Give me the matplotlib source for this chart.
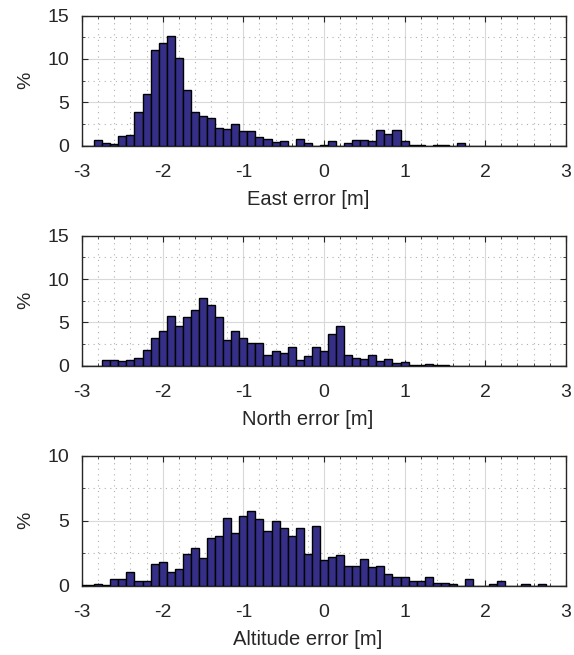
import matplotlib
matplotlib.use('Agg')
import matplotlib.pyplot as plt
import numpy as np
from matplotlib.ticker import MultipleLocator

## bin centres every 0.1 m, from -3 to 3 (61 bins)
centers = np.round(np.arange(-3.0, 3.0001, 0.1), 1)

## percent of samples per bin
east = [0, 0, 0.6, 0.27, 0.15, 1.08, 1.2, 3.9, 6.0, 11.0,
        11.9, 12.6, 10.1, 6.4, 3.9, 3.4, 3.15, 2.0, 1.9, 2.46,
        1.7, 1.7, 1.04, 0.77, 0.38, 0.5, 0.0, 0.77, 0.27, 0.0,
        0.1, 0.5, 0.0, 0.27, 0.6, 0.6, 0.5, 1.8, 1.4, 1.8,
        0.5, 0.1, 0.1, 0, 0.03, 0.1, 0, 0.27, 0, 0,
        0, 0, 0, 0, 0, 0, 0, 0, 0, 0, 0]
north = [0, 0, 0, 0.6, 0.6, 0.5, 0.6, 0.92, 1.8, 3.2,
         4.0, 5.7, 4.6, 5.6, 6.4, 7.85, 7.0, 5.6, 3.0, 4.0,
         3.15, 2.6, 2.6, 1.27, 1.65, 1.5, 2.2, 0.6, 1.1, 2.1,
         1.65, 3.65, 4.6, 1.27, 0.92, 0.77, 1.27, 0.5, 0.77, 0.27,
         0.38, 0.1, 0.1, 0.23, 0.04, 0.1, 0, 0, 0, 0,
         0, 0, 0, 0, 0, 0, 0, 0, 0, 0, 0]
alt = [0.05, 0.03, 0.1, 0.08, 0.5, 0.5, 1.03, 0.36, 0.36, 1.7,
       1.8, 1.03, 1.3, 2.46, 2.87, 2.1, 3.67, 3.8, 5.23, 4.03,
       5.36, 5.77, 5.1, 4.2, 4.97, 4.44, 3.8, 4.44, 2.46, 4.56,
       1.95, 2.2, 2.33, 1.54, 1.54, 2.08, 1.41, 1.54, 0.87, 0.64,
       0.64, 0.33, 0.33, 0.64, 0.2, 0.2, 0.1, 0, 0.5, 0,
       0, 0.1, 0.33, 0, 0, 0.1, 0, 0.1, 0, 0, 0]

series = [east, north, alt]
xlabels = ['East error [m]', 'North error [m]', 'Altitude error [m]']
ylims = [15, 15, 10]

plt.rcParams['font.family'] = ['Liberation Sans', 'DejaVu Sans']
plt.rcParams['axes.unicode_minus'] = False

txt = '#262626'
fig = plt.figure(figsize=(5.74, 6.55), dpi=100)

bottoms = [0.7776, 0.4417, 0.1058]
for i in range(3):
    ax = fig.add_axes([0.143, bottoms[i], 0.8427, 0.1985])
    ax.bar(centers, series[i], width=0.1, color='#352f88',
           edgecolor='black', linewidth=1.0, zorder=3)

    ax.set_xlim(-3, 3)
    ax.set_ylim(0, ylims[i])
    ax.xaxis.set_major_locator(MultipleLocator(1))
    ax.xaxis.set_minor_locator(MultipleLocator(0.2))
    ax.yaxis.set_major_locator(MultipleLocator(5))
    ax.yaxis.set_minor_locator(MultipleLocator(2.5))

    ## MATLAB-like grid
    ax.grid(which='major', color='#d9d9d9', linewidth=0.8, linestyle='-', zorder=0)
    ax.grid(which='minor', color='#b0b0b0', linewidth=0.8, linestyle=(0, (1, 4)), zorder=0)

    ax.tick_params(which='both', direction='in', top=True, right=True,
                   colors=txt, labelcolor=txt)
    ax.tick_params(which='major', length=4, width=0.8, labelsize=14)
    ax.tick_params(which='minor', length=2.5, width=0.6)
    ax.tick_params(axis='x', which='major', pad=13)
    ax.tick_params(axis='y', which='major', pad=9)
    for s in ax.spines.values():
        s.set_color(txt)
        s.set_linewidth(1.0)

    ax.set_xlabel(xlabels[i], fontsize=14.5, color=txt, labelpad=7, x=0.467)
    ax.set_ylabel('%', fontsize=14, color=txt, labelpad=10)

plt.savefig('out.png', dpi=100)
